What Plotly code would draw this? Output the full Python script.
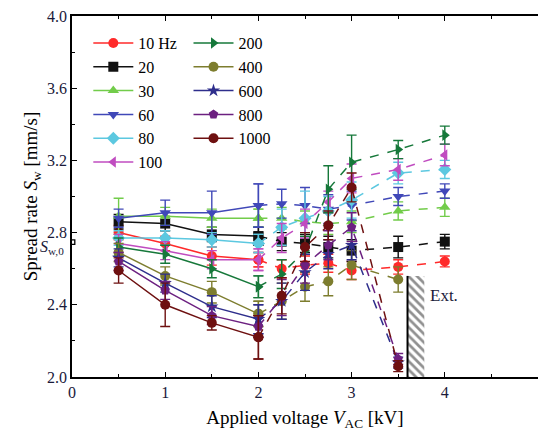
import plotly.graph_objects as go

voltage = [0.5, 1.0, 1.5, 2.0, 2.25, 2.5, 2.75, 3.0, 3.5, 4.0]

labels = ["10 Hz", "20", "30", "60", "80", "100", "200", "400", "600", "800", "1000"]

s10 = [2.80, 2.74, 2.67, 2.65, 2.60, 2.62, 2.63, 2.59, 2.61, 2.64]
s20 = [2.86, 2.85, 2.79, 2.78, 2.75, 2.74, 2.72, 2.70, 2.72, 2.75]
s30 = [2.89, 2.89, 2.88, 2.88, 2.88, 2.86, 2.85, 2.86, 2.92, 2.94]
s60 = [2.88, 2.91, 2.91, 2.95, 2.96, 2.95, 2.93, 2.95, 3.00, 3.03]
s80 = [2.77, 2.77, 2.76, 2.74, 2.83, 2.88, 2.92, 2.98, 3.13, 3.15]
s100 = [2.74, 2.70, 2.65, 2.65, 2.77, 2.85, 2.97, 3.10, 3.15, 3.23]
s200 = [2.72, 2.68, 2.60, 2.50, 2.57, 2.70, 3.04, 3.19, 3.26, 3.34]
s400 = [2.69, 2.56, 2.47, 2.35, 2.42, 2.50, 2.53, 2.62, 2.54]
s600 = [2.66, 2.52, 2.39, 2.32, 2.42, 2.58, 2.68, 2.73, 2.08]
s800 = [2.64, 2.48, 2.34, 2.28, 2.44, 2.62, 2.73, 2.83, 2.10]
s1000 = [2.59, 2.40, 2.30, 2.22, 2.45, 2.72, 2.84, 3.05, 2.06]

e10 = [0.04, 0.04, 0.05, 0.04, 0.05, 0.05, 0.05, 0.05, 0.04, 0.03]
e20 = [0.04, 0.04, 0.04, 0.05, 0.05, 0.05, 0.06, 0.06, 0.06, 0.04]
e30 = [0.10, 0.05, 0.05, 0.05, 0.06, 0.06, 0.06, 0.06, 0.05, 0.05]
e60 = [0.05, 0.07, 0.12, 0.12, 0.08, 0.10, 0.08, 0.08, 0.05, 0.04]
e80 = [0.04, 0.04, 0.04, 0.05, 0.10, 0.15, 0.08, 0.10, 0.06, 0.05]
e100 = [0.05, 0.05, 0.05, 0.06, 0.08, 0.08, 0.06, 0.08, 0.06, 0.06]
e200 = [0.05, 0.05, 0.05, 0.06, 0.08, 0.08, 0.13, 0.15, 0.05, 0.05]
e400 = [0.05, 0.05, 0.06, 0.07, 0.10, 0.08, 0.08, 0.08, 0.07]
e600 = [0.05, 0.05, 0.06, 0.08, 0.10, 0.10, 0.08, 0.08, 0.03]
e800 = [0.05, 0.05, 0.05, 0.06, 0.10, 0.10, 0.08, 0.08, 0.03]
e1000 = [0.07, 0.12, 0.04, 0.12, 0.10, 0.08, 0.08, 0.08, 0.03]

series = [s10, s20, s30, s60, s80, s100, s200, s400, s600, s800, s1000]
errors = [e10, e20, e30, e60, e80, e100, e200, e400, e600, e800, e1000]

colors = ["#ff2a2a", "#111111", "#72cc4a", "#4048b8", "#5cc8e0", "#c04cc0",
          "#16783a", "#7d7d2e", "#2e2e8c", "#6c2080", "#6e1010"]
symbols = ["circle", "square", "triangle-up", "triangle-down", "diamond",
           "triangle-left", "triangle-right", "circle", "star", "pentagon", "circle"]

ext_x0, ext_x1, ext_top = 3.60, 3.78, 2.56
FONT = "Liberation Serif"
TXT = "#1a1a3a"

fig = go.Figure()

for i, (lab, ys, es) in enumerate(zip(labels, series, errors)):
    xs = voltage[:len(ys)]
    n_solid = sum(1 for v in xs if v <= 2.0)
    legend = "legend" if i < 6 else "legend2"
    common = dict(
        marker=dict(symbol=symbols[i], size=10, color=colors[i],
                    line=dict(width=0)),
    )
    # dashed segment (2 kV onward)
    fig.add_trace(go.Scatter(
        x=xs[n_solid - 1:], y=ys[n_solid - 1:], mode="lines+markers",
        line=dict(color=colors[i], width=1.5, dash="dash"),
        error_y=dict(type="data", array=es[n_solid - 1:], color=colors[i],
                     thickness=1.4, width=5),
        showlegend=False, legend=legend, **common))
    # solid segment
    fig.add_trace(go.Scatter(
        x=xs[:n_solid], y=ys[:n_solid], mode="lines+markers", name=lab,
        line=dict(color=colors[i], width=1.5),
        error_y=dict(type="data", array=es[:n_solid], color=colors[i],
                     thickness=1.4, width=5),
        legend=legend, **common))

# extinction hatched region
fig.add_trace(go.Bar(
    x=[(ext_x0 + ext_x1) / 2], y=[ext_top - 2.0], base=[2.0],
    width=[ext_x1 - ext_x0],
    marker=dict(color="white", line=dict(width=0),
                pattern=dict(shape="\\", fgcolor="#222222", bgcolor="white",
                             size=6, solidity=0.45)),
    showlegend=False, hoverinfo="skip"))
fig.add_shape(type="line", x0=ext_x0, x1=ext_x0, y0=2.0, y1=ext_top,
              line=dict(color="black", width=2))
fig.add_annotation(x=3.82, y=2.45, text="Ext.", showarrow=False,
                   xanchor="left", font=dict(family=FONT, size=17, color=TXT))

# S_w,0 label and axis break mark
fig.add_annotation(xref="paper", x=0, y=2.715, xanchor="right", xshift=-6,
                   text="<i>S</i><sub>w,0</sub>", showarrow=False,
                   font=dict(family=FONT, size=16, color=TXT))
fig.add_shape(type="path", xref="paper", yref="y",
              path="M 0,2.76 L 0.006,2.76 L 0.006,2.735 L 0,2.735",
              line=dict(color="black", width=1.3))

axis_common = dict(
    showline=True, linecolor="black", linewidth=1.5,
    ticks="inside", ticklen=5, tickcolor="black",
    showgrid=False, zeroline=False,
    tickfont=dict(family=FONT, size=16, color=TXT),
)

fig.update_layout(
    width=538, height=437,
    margin=dict(l=72, r=0, t=16, b=60),
    plot_bgcolor="white", paper_bgcolor="white",
    barmode="overlay",
    xaxis=dict(range=[0, 5], tickvals=[0, 1, 2, 3, 4, 5], mirror="ticks",
               minor=dict(ticks="inside", ticklen=3, dtick=0.5, tickcolor="black"),
               title=dict(text="Applied voltage <i>V</i><sub>AC</sub> [kV]",
                          font=dict(family=FONT, size=19, color="black"),
                          standoff=11),
               automargin=False, **axis_common),
    yaxis=dict(range=[2.0, 4.0], tickvals=[2.0, 2.4, 2.8, 3.2, 3.6, 4.0],
               tickformat=".1f",
               minor=dict(ticks="inside", ticklen=3, dtick=0.2, tickcolor="black"),
               title=dict(text="Spread rate <i>S</i><sub>w</sub> [mm/s]",
                          font=dict(family=FONT, size=19, color="black"),
                          standoff=4),
               automargin=False, **axis_common),
    legend=dict(x=0.035, y=0.972, xanchor="left", yanchor="top",
                bgcolor="rgba(0,0,0,0)", font=dict(family=FONT, size=16, color="black"),
                tracegroupgap=0, itemwidth=40),
    legend2=dict(x=0.25, y=0.972, xanchor="left", yanchor="top",
                 bgcolor="rgba(0,0,0,0)", font=dict(family=FONT, size=16, color="black"),
                 tracegroupgap=0, itemwidth=40),
)

fig.write_html("out.html")
